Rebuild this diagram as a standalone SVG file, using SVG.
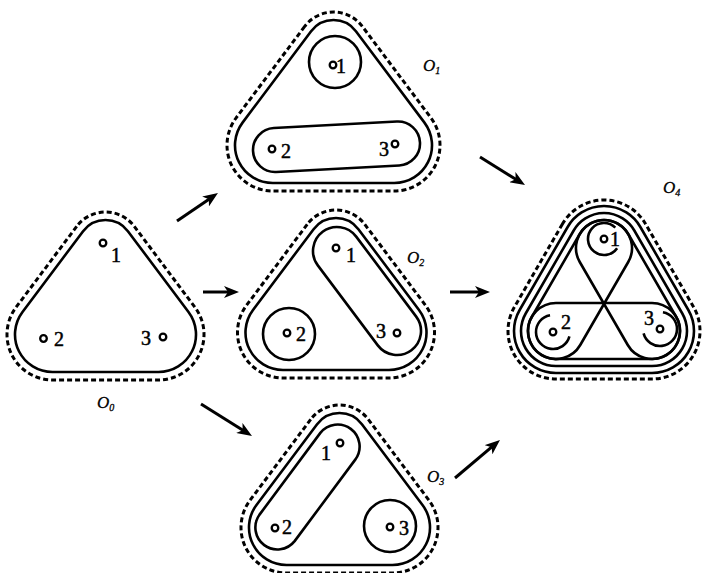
<svg xmlns="http://www.w3.org/2000/svg" width="705" height="573" viewBox="0 0 705 573">
<style>
.s{fill:none;stroke:#000;stroke-width:2.6}
.d{fill:none;stroke:#000;stroke-width:3;stroke-dasharray:5 3}
.dot{fill:none;stroke:#000;stroke-width:2.3}
.n{font-family:"Liberation Serif",serif;font-size:20px;fill:#000;stroke:#000;stroke-width:0.5}
.lb{font-family:"Liberation Serif",serif;font-style:italic;font-size:17px;fill:#000;stroke:#000;stroke-width:0.3}
.sub{font-size:10px}
.ar{stroke:#000;stroke-width:3;fill:none;marker-end:url(#ah)}
</style>
<defs>
<marker id="ah" markerWidth="15" markerHeight="12" refX="9" refY="6" orient="auto" markerUnits="userSpaceOnUse"><path d="M0,0 L15,6 L0,12 L4,6 Z" fill="#000"/></marker>
<path id="rs" d="M83.1 231.2 L22.5 312 A37.5 37.5 0 0 0 52.5 372 L158.5 372 A37.5 37.5 0 0 0 188.5 312 L127.9 231.2 A28 28 0 0 0 83.1 231.2 Z"/>
<path id="rd" d="M76.7 226.4 L16.1 307.2 A45.5 45.5 0 0 0 52.5 380 L158.5 380 A45.5 45.5 0 0 0 194.9 307.2 L134.3 226.4 A36 36 0 0 0 76.7 226.4 Z"/>
</defs>
<g id="connectors">
<line class="ar" x1="177" y1="221" x2="213" y2="196.4"/>
<line class="ar" x1="203" y1="292" x2="233" y2="292"/>
<line class="ar" x1="201" y1="404" x2="246.9" y2="432.8"/>
<line class="ar" x1="480" y1="157" x2="519.9" y2="181.8"/>
<line class="ar" x1="450" y1="292" x2="484" y2="292"/>
<line class="ar" x1="455" y1="478" x2="495.4" y2="443.9"/>
</g>
<g id="O0">
<use href="#rd" class="d"/>
<use href="#rs" class="s"/>
<circle class="dot" cx="103" cy="243" r="3.3"/>
<text class="n" x="111" y="262">1</text>
<circle class="dot" cx="43.5" cy="338.5" r="3.3"/>
<text class="n" x="54" y="346">2</text>
<text class="n" x="141" y="345">3</text>
<circle class="dot" cx="163" cy="337" r="3.3"/>
<text class="lb" x="97" y="408">O<tspan class="sub" dy="3">0</tspan></text>
</g>
<g id="O1">
<path class="d" d="M304.7 26.4 L236.15 117.8 A45.75 45.75 0 0 0 272.75 191 L394.25 191 A45.75 45.75 0 0 0 430.85 117.8 L362.3 26.4 A36 36 0 0 0 304.7 26.4 Z"/>
<path class="s" d="M311.1 31.2 L242.55 122.6 A37.75 37.75 0 0 0 272.75 183 L394.25 183 A37.75 37.75 0 0 0 424.45 122.6 L355.9 31.2 A28 28 0 0 0 311.1 31.2 Z"/>
<circle class="s" cx="335" cy="62" r="26"/>
<circle class="dot" cx="333" cy="65" r="3.3"/>
<text class="n" x="336" y="73">1</text>
<path class="s" d="M273.84 128.03 L396.84 121.53 A22 22 0 0 1 399.16 165.47 L276.16 171.97 A22 22 0 0 1 273.84 128.03 Z"/>
<circle class="dot" cx="272" cy="149" r="3.3"/>
<text class="n" x="281" y="158">2</text>
<text class="n" x="379" y="156">3</text>
<circle class="dot" cx="395" cy="144" r="3.3"/>
<text class="lb" x="423" y="71">O<tspan class="sub" dy="3">1</tspan></text>
</g>
<g id="O2">
<use href="#rd" class="d" x="230.5" y="-2"/>
<use href="#rs" class="s" x="230.5" y="-2"/>
<circle class="s" cx="289" cy="334" r="26"/>
<circle class="dot" cx="287" cy="333" r="3.3"/>
<text class="n" x="296" y="341">2</text>
<path class="s" d="M356.2 236.6 L416.2 316.6 A24 24 0 0 1 377.8 345.4 L317.8 265.4 A24 24 0 0 1 356.2 236.6 Z"/>
<circle class="dot" cx="336" cy="248" r="3.3"/>
<text class="n" x="346" y="262">1</text>
<text class="n" x="376" y="338">3</text>
<circle class="dot" cx="397" cy="333" r="3.3"/>
<text class="lb" x="407" y="263">O<tspan class="sub" dy="3">2</tspan></text>
</g>
<g id="O3">
<use href="#rd" class="d" x="234" y="193"/>
<use href="#rs" class="s" x="234" y="193"/>
<path class="s" d="M355.64 459.13 L294.64 541.13 A22 22 0 0 1 259.36 514.87 L320.36 432.87 A22 22 0 0 1 355.64 459.13 Z"/>
<circle class="s" cx="390" cy="526" r="26"/>
<circle class="dot" cx="340" cy="443" r="3.3"/>
<text class="n" x="321" y="460">1</text>
<circle class="dot" cx="275" cy="528" r="3.3"/>
<text class="n" x="282" y="534">2</text>
<circle class="dot" cx="390" cy="527" r="3.3"/>
<text class="n" x="399" y="535">3</text>
<text class="lb" x="427" y="482">O<tspan class="sub" dy="3">3</tspan></text>
</g>
<g id="O4">
<path class="d" d="M562.45 223.97 L514.45 306.97 A48 48 0 0 0 556 379 L652 379 A48 48 0 0 0 693.55 306.97 L645.55 223.97 A48 48 0 0 0 562.45 223.97 Z"/>
<path class="s" d="M567.65 226.98 L519.65 309.98 A42 42 0 0 0 556 373 L652 373 A42 42 0 0 0 688.35 309.98 L640.35 226.98 A42 42 0 0 0 567.65 226.98 Z"/>
<path class="s" d="M573.7 230.48 L525.7 313.48 A35 35 0 0 0 556 366 L652 366 A35 35 0 0 0 682.3 313.48 L634.3 230.48 A35 35 0 0 0 573.7 230.48 Z"/>
<path class="s" d="M579.76 233.98 L531.76 316.98 A28 28 0 0 0 580.24 345.02 L628.24 262.02 A28 28 0 0 0 579.76 233.98 Z"/>
<path class="s" d="M579.76 262.02 L627.76 345.02 A28 28 0 0 0 676.24 316.98 L628.24 233.98 A28 28 0 0 0 579.76 262.02 Z"/>
<path class="s" d="M556 303 A28 28 0 0 0 556 359 L652 359 A28 28 0 0 0 652 303 Z"/>
<path class="s" d="M615.3 227.7 A16 16 0 1 0 617.1 248.2"/>
<path class="s" d="M550.05 315.26 A17 17 0 1 0 569.42 336.4"/>
<path class="s" d="M643.58 333.4 A17 17 0 1 0 662.95 312.26"/>
<circle class="dot" cx="604" cy="239" r="3.3"/>
<text class="n" x="610" y="246">1</text>
<circle class="dot" cx="553" cy="332" r="3.3"/>
<text class="n" x="561" y="329">2</text>
<circle class="dot" cx="660" cy="329" r="3.3"/>
<text class="n" x="644" y="325">3</text>
<text class="lb" x="663" y="193">O<tspan class="sub" dy="3">4</tspan></text>
</g>
</svg>
